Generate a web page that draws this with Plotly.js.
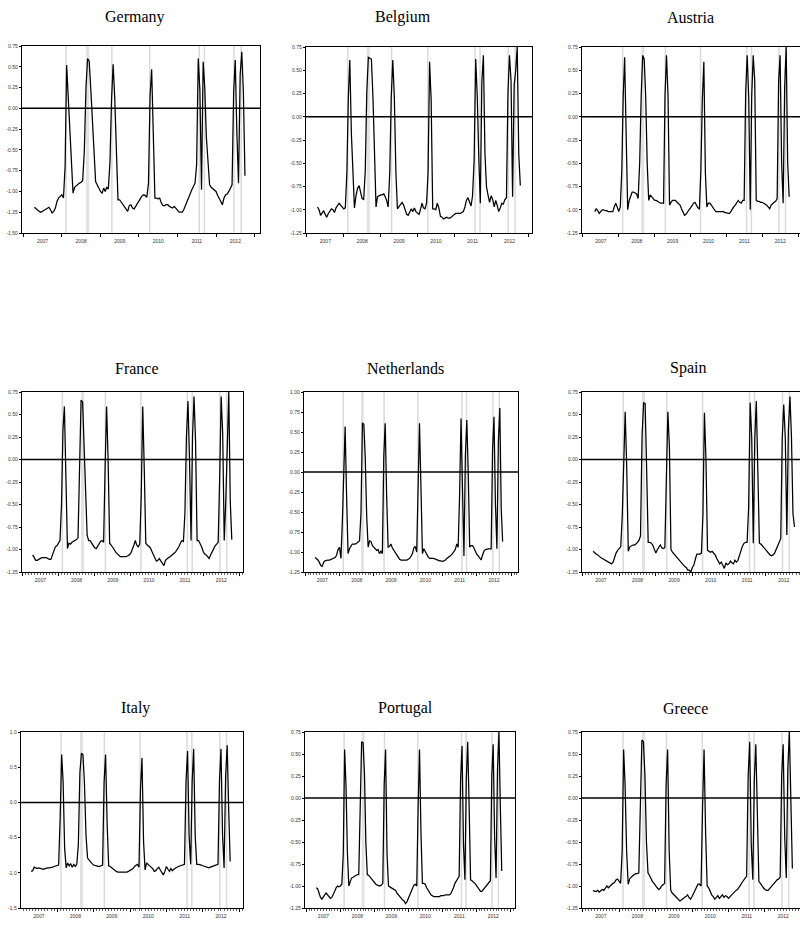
<!DOCTYPE html>
<html>
<head>
<meta charset="utf-8">
<script src="https://cdn.plot.ly/plotly-3.0.1.min.js"></script>
<style>
  html, body { margin: 0; padding: 0; background: #ffffff; }
  #chart { width: 800px; height: 926px; }
</style>
</head>
<body>
<div id="chart"></div>
<script>
// Semi-monthly observations from mid-April 2007 to October 2012.
// Time is counted in months from January 2007 (0 = 2007-01-01).
const firstMonth = 3.5;
const stepMonth = 0.5;

const germany = [
  -1.19,
  -1.21,-1.23,-1.24,-1.25,-1.24,-1.23,-1.22,-1.20,-1.19,-1.22,-1.26,-1.24,-1.20,-1.12,-1.08,-1.06,-1.04,-1.08,
  -0.70,0.52,0.16,-0.38,-0.78,-1.02,
  -0.95,-0.93,-0.92,-0.90,-0.89,-0.87,
  -0.52,0.24,0.60,0.57,0.24,-0.18,-0.66,-0.88,
  -0.92,-0.97,-1.00,-1.02,-0.96,-1.00,-0.95,-0.97,
  -0.65,0.10,0.53,0.12,-0.50,-1.10,
  -1.10,-1.13,-1.15,-1.18,-1.22,-1.24,-1.17,-1.16,-1.20,-1.21,-1.18,-1.14,-1.12,-1.08,-1.05,-1.04,-1.05,-1.07,
  -0.90,0.15,0.47,-0.30,-1.08,
  -1.08,-1.09,-1.08,-1.14,-1.17,-1.17,-1.16,-1.16,-1.18,-1.19,-1.20,-1.18,-1.20,-1.22,-1.25,-1.25,-1.25,-1.22,-1.17,-1.12,-1.06,-1.02,-0.98,-0.94,-0.90,
  -0.68,0.60,0.22,-0.98,0.56,0.25,-0.34,-0.70,-0.92,
  -0.95,-0.97,-0.99,-1.00,-1.05,-1.08,-1.12,-1.16,-1.08,-1.04,-1.03,-1.00,-0.96,-0.92,
  0.20,0.58,-0.30,-0.90,0.40,0.68,0.20,-0.81,null
];

const belgium = [
  -0.97,
  -1.00,-1.06,-1.03,-1.01,-1.05,-1.08,-1.04,-1.02,-0.99,-1.00,-1.03,-0.98,-0.96,-0.93,-0.95,-0.97,-0.99,-0.98,
  -0.60,0.21,0.61,-0.18,-0.61,-0.98,
  -0.85,-0.77,-0.74,-0.80,-0.88,-0.89,
  -0.59,0.27,0.64,0.63,0.62,0.21,-0.58,-0.97,
  -0.86,-0.85,-0.84,-0.84,-0.83,-0.86,-0.90,-0.97,
  -0.60,0.21,0.61,0.21,-0.60,-0.99,
  -0.97,-0.95,-0.92,-0.95,-1.00,-1.05,-1.06,-1.02,-0.99,-1.02,-0.98,-1.02,-1.04,-1.05,-0.99,-0.93,-0.98,-0.99,
  -0.93,-0.60,0.59,0.18,-0.99,
  -0.99,-1.00,-0.93,-0.98,-1.07,-1.08,-1.10,-1.09,-1.08,-1.09,-1.09,-1.08,-1.06,-1.05,-1.04,-1.04,-1.04,-1.04,-1.03,-1.02,-0.97,-0.90,-0.87,-0.93,-0.96,
  -0.85,-0.47,0.62,0.23,-0.45,-0.93,0.37,0.66,-0.40,
  -0.75,-0.84,-0.92,-0.85,-0.89,-0.97,-0.90,-0.95,-1.02,-0.98,-0.93,-0.94,-0.89,-0.87,
  0.25,0.66,0.39,-0.86,0.34,0.50,0.75,-0.40,-0.74
];

const austria = [
  null,
  -1.02,-0.99,-1.01,-1.04,-1.02,-1.00,-1.00,-1.01,-1.01,-1.02,-1.02,-1.02,-1.02,-0.97,-0.93,-0.97,-1.02,-0.97,
  -0.58,0.23,0.64,-0.20,-1.00,-0.90,
  -0.85,-0.81,-0.81,-0.82,-0.83,-0.88,
  -0.50,0.23,0.66,0.62,0.23,-0.50,-0.90,-0.84,
  -0.86,-0.88,-0.90,-0.90,-0.91,-0.92,-0.93,-0.93,
  -0.93,0.23,0.66,0.23,-0.95,-0.92,
  -0.90,-0.90,-0.90,-0.92,-0.94,-0.95,-0.99,-1.03,-1.06,-1.05,-1.02,-1.00,-0.98,-0.95,-0.93,-0.92,-0.95,-0.98,
  -0.99,-0.58,0.18,0.59,-0.60,
  -0.97,-0.93,-0.93,-0.95,-0.98,-1.00,-1.02,-1.02,-1.02,-1.02,-1.02,-1.02,-1.03,-1.03,-1.04,-1.04,-1.02,-0.99,-0.97,-0.95,-0.92,-0.90,-0.92,-0.93,-0.90,
  -0.90,0.27,0.66,0.20,-1.00,0.23,0.66,0.39,-0.90,
  -0.91,-0.91,-0.92,-0.92,-0.93,-0.94,-0.95,-0.97,-0.99,-0.95,-0.93,-0.92,-0.91,-0.88,
  0.39,0.66,-0.50,-0.93,0.32,0.75,-0.49,-0.86,null
];

const france = [
  -1.06,
  -1.10,-1.12,-1.12,-1.11,-1.10,-1.09,-1.09,-1.09,-1.09,-1.10,-1.11,-1.11,-1.06,-1.02,-0.97,-0.96,-0.93,-0.90,
  -0.50,0.33,0.59,-0.10,-0.99,-0.93,
  -0.94,-0.92,-0.91,-0.90,-0.89,-0.87,
  -0.20,0.66,0.64,0.20,-0.26,-0.84,-0.90,-0.90,
  -0.93,-0.96,-0.98,-0.99,-0.96,-0.93,-0.91,-0.90,
  -0.92,-0.10,0.59,0.00,-0.93,-0.95,
  -0.97,-1.00,-1.03,-1.05,-1.07,-1.08,-1.08,-1.08,-1.08,-1.08,-1.07,-1.06,-1.04,-1.00,-0.95,-0.90,-0.95,-0.97,
  -0.94,-0.40,0.59,-0.10,-0.93,
  -0.95,-0.96,-0.98,-1.02,-1.06,-1.08,-1.13,-1.12,-1.10,-1.13,-1.15,-1.18,-1.12,-1.10,-1.09,-1.08,-1.07,-1.06,-1.04,-1.02,-1.00,-0.97,-0.93,-0.90,-0.91,
  -0.60,0.26,0.65,0.00,-0.90,0.26,0.70,0.20,-0.90,
  -0.90,-0.93,-0.97,-1.02,-1.05,-1.06,-1.08,-1.10,-1.06,-1.02,-1.00,-0.96,-0.94,-0.92,
  -0.20,0.70,0.29,-0.90,-0.47,0.33,0.75,-0.47,-0.89
];

const netherlands = [
  -1.07,
  -1.08,-1.10,-1.13,-1.17,-1.18,-1.13,-1.11,-1.10,-1.10,-1.10,-1.09,-1.09,-1.08,-1.07,-1.04,-0.97,-0.94,-1.08,
  -0.60,0.15,0.57,-0.30,-1.02,-0.96,
  -0.92,-0.90,-0.90,-0.90,-0.89,-0.88,
  -0.86,-0.52,0.61,0.60,0.17,-0.56,-0.94,-0.86,
  -0.87,-0.92,-0.94,-0.96,-0.98,-0.97,-1.02,-0.99,
  -1.02,0.19,0.61,-0.30,-0.94,-0.93,
  -0.90,-0.95,-0.98,-1.00,-1.03,-1.06,-1.09,-1.10,-1.10,-1.10,-1.10,-1.10,-1.09,-1.08,-1.05,-1.02,-0.95,-0.93,
  -1.00,0.00,0.61,-0.20,-1.02,
  -0.96,-1.00,-1.04,-1.06,-1.08,-1.08,-1.08,-1.08,-1.09,-1.10,-1.10,-1.11,-1.11,-1.12,-1.11,-1.10,-1.08,-1.07,-1.05,-1.04,-1.02,-1.00,-0.97,-0.90,-0.94,
  -0.30,0.67,-0.20,-1.05,0.21,0.65,0.00,-0.94,-0.92,
  -0.92,-0.95,-1.00,-1.03,-1.05,-1.07,-1.10,-1.04,-0.99,-0.97,-0.96,-0.96,-0.96,-0.96,
  0.28,0.69,-0.40,-0.96,0.38,0.80,-0.46,-0.87,null
];

const spain = [
  -1.02,
  -1.04,-1.05,-1.06,-1.08,-1.09,-1.10,-1.11,-1.12,-1.13,-1.14,-1.15,-1.16,-1.14,-1.08,-1.04,-1.01,-0.99,-0.97,
  -0.62,0.14,0.53,-0.10,-1.02,-0.97,
  -0.96,-0.95,-0.95,-0.94,-0.92,-0.90,
  -0.85,0.26,0.63,0.62,-0.10,-0.92,-0.92,-0.93,
  -0.95,-1.00,-1.04,-1.00,-0.97,-0.95,-0.98,-0.99,
  -0.98,-0.20,0.53,0.14,-1.00,-1.03,
  -1.05,-1.07,-1.09,-1.11,-1.12,-1.15,-1.17,-1.19,-1.20,-1.23,-1.23,-1.25,-1.20,-1.17,-1.10,-1.05,-1.05,-1.05,
  -1.04,-0.62,0.52,0.00,-1.01,
  -1.02,-1.03,-1.02,-1.04,-1.06,-1.10,-1.14,-1.16,-1.14,-1.18,-1.21,-1.15,-1.17,-1.16,-1.13,-1.15,-1.16,-1.12,-1.14,-1.12,-1.06,-1.00,-0.96,-0.93,-0.92,
  -0.92,-0.53,0.63,0.24,-0.93,0.24,0.65,-0.10,-0.93,
  -0.94,-0.96,-0.98,-1.00,-1.03,-1.05,-1.06,-1.07,-1.06,-1.04,-1.00,-0.96,-0.92,-0.88,
  0.24,0.61,0.24,-0.84,0.33,0.70,0.25,-0.60,-0.75
];

const italy = [
  -0.98,
  -0.97,-0.92,-0.93,-0.94,-0.93,-0.94,-0.94,-0.95,-0.94,-0.93,-0.93,-0.93,-0.93,-0.92,-0.91,-0.90,-0.90,-0.89,
  -0.20,0.68,0.30,-0.65,-0.93,-0.86,
  -0.90,-0.87,-0.92,-0.88,-0.91,-0.88,
  -0.60,0.42,0.70,0.68,0.28,-0.46,-0.79,-0.82,
  -0.84,-0.87,-0.89,-0.90,-0.91,-0.91,-0.91,-0.90,
  -0.89,0.28,0.68,-0.30,-0.90,-0.91,
  -0.93,-0.95,-0.97,-0.98,-0.99,-0.99,-0.99,-1.00,-1.00,-1.00,-0.99,-0.98,-0.97,-0.96,-0.94,-0.91,-0.89,-0.88,
  -0.92,0.20,0.63,-0.55,-0.96,
  -0.86,-0.88,-0.90,-0.92,-0.94,-0.98,-0.97,-0.94,-0.92,-0.96,-1.00,-1.03,-0.98,-0.91,-0.95,-0.98,-0.94,-0.97,-0.95,-0.93,-0.92,-0.91,-0.90,-0.89,-0.88,
  -0.88,0.30,0.73,-0.48,-0.88,0.30,0.76,-0.48,-0.88,
  -0.88,-0.88,-0.89,-0.90,-0.91,-0.92,-0.93,-0.93,-0.92,-0.91,-0.90,-0.89,-0.88,-0.88,
  0.32,0.76,-0.46,-0.93,0.37,0.81,-0.10,-0.84,null
];

const portugal = [
  -1.02,
  -1.03,-1.08,-1.13,-1.15,-1.12,-1.10,-1.08,-1.10,-1.12,-1.14,-1.13,-1.10,-1.06,-1.02,-1.00,-1.01,-1.00,-0.98,
  -0.63,0.55,0.15,-0.63,-1.00,-0.95,
  -0.91,-0.90,-0.89,-0.88,-0.87,-0.87,
  -0.20,0.64,0.63,0.27,-0.51,-0.87,-0.88,-0.90,
  -0.92,-0.95,-0.97,-0.98,-0.99,-1.00,-1.00,-0.99,
  -0.97,0.15,0.55,-0.63,-1.00,-1.01,
  -1.02,-1.03,-1.04,-1.05,-1.08,-1.10,-1.12,-1.15,-1.16,-1.17,-1.20,-1.18,-1.14,-1.10,-1.06,-1.03,-0.99,-0.98,
  -1.00,-0.10,0.55,-0.40,-0.97,
  -0.97,-0.98,-1.02,-1.05,-1.08,-1.10,-1.11,-1.12,-1.12,-1.12,-1.12,-1.12,-1.11,-1.11,-1.11,-1.10,-1.10,-1.10,-1.10,-1.09,-1.06,-1.02,-0.97,-0.94,-0.91,
  -0.89,0.21,0.59,-0.53,-0.93,0.21,0.64,-0.10,-0.93,
  -0.94,-0.95,-0.97,-0.99,-1.01,-1.04,-1.06,-1.06,-1.04,-1.02,-1.00,-0.98,-0.96,-0.94,
  0.25,0.61,-0.45,-0.91,0.33,0.75,-0.10,-0.83,null
];

const greece = [
  -1.05,
  -1.06,-1.06,-1.05,-1.07,-1.06,-1.04,-1.05,-1.03,-1.00,-1.02,-1.00,-0.98,-0.97,-0.96,-0.93,-0.92,-0.95,-0.97,
  -0.60,0.55,0.15,-0.60,-0.98,-0.92,
  -0.90,-0.88,-0.87,-0.86,-0.86,-0.85,
  -0.20,0.66,0.64,0.25,-0.50,-0.85,-0.88,-0.92,
  -0.95,-0.97,-1.00,-1.02,-1.04,-1.03,-1.00,-0.98,
  -0.97,0.15,0.55,-0.60,-1.05,-1.08,
  -1.10,-1.12,-1.13,-1.15,-1.17,-1.16,-1.14,-1.13,-1.12,-1.10,-1.13,-1.15,-1.12,-1.08,-1.04,-1.00,-0.98,-0.98,
  -1.00,-0.10,0.55,-0.40,-1.00,
  -1.02,-1.06,-1.10,-1.12,-1.15,-1.13,-1.11,-1.14,-1.12,-1.10,-1.13,-1.11,-1.12,-1.14,-1.12,-1.10,-1.08,-1.06,-1.05,-1.04,-1.02,-0.99,-0.96,-0.93,-0.91,
  -0.89,0.25,0.64,-0.53,-0.93,0.21,0.61,-0.10,-0.95,
  -0.97,-1.00,-1.02,-1.04,-1.05,-1.05,-1.03,-1.00,-0.98,-0.97,-0.95,-0.93,-0.92,-0.90,
  0.25,0.61,-0.45,-0.91,0.33,0.75,-0.10,-0.80,null
];

const countries = ['Germany', 'Belgium', 'Austria', 'France', 'Netherlands', 'Spain', 'Italy', 'Portugal', 'Greece'];
const values = [germany, belgium, austria, france, netherlands, spain, italy, portugal, greece];

// y-axis tick values for each panel (top to bottom)
const ticksQuarter9 = [0.75, 0.5, 0.25, 0, -0.25, -0.5, -0.75, -1, -1.25];
const ticksGermany = [0.75, 0.5, 0.25, 0, -0.25, -0.5, -0.75, -1, -1.25, -1.5];
const ticksNetherlands = [1, 0.75, 0.5, 0.25, 0, -0.25, -0.5, -0.75, -1, -1.25];
const ticksItaly = [1, 0.5, 0, -0.5, -1, -1.5];
const yTicks = [ticksGermany, ticksQuarter9, ticksQuarter9, ticksQuarter9, ticksNetherlands,
                ticksQuarter9, ticksItaly, ticksQuarter9, ticksQuarter9];
const yDecimals = [2, 2, 2, 2, 2, 2, 1, 2, 2];

// marked dates (months from Jan 2007) and the shaded period
const eventMonths = [13.3, 27.6, 39.4, 54.8, 56.4, 65.6, 67.8];
const bandMonths = [19.5, 20.5];

// ---- layout geometry (pixels) ----
const W = 800, H = 926;
const boxes = [ // left, right, top, bottom
  [22, 260, 46, 233], [306, 532, 47, 233], [582, 800, 47, 233],
  [22, 243, 392, 572], [304, 518, 392, 572], [582, 800, 392, 572],
  [21, 243, 732, 908], [305, 515, 732, 908], [582, 800, 732, 908]
];
const xRanges = [ // visible span in months from Jan 2007
  [-0.4, 73.7], [-0.3, 73.3], [-0.3, 72.6],
  [-0.1, 73.2], [-0.4, 74.4], [-0.2, 71.3],
  [0.1, 73.2], [-0.5, 73.7], [-0.2, 71.5]
];
const titleCenters = [[135, 17], [403, 17], [690, 17], [137, 368], [406, 368], [688, 368], [135, 708], [405, 708], [685, 708]];

function monthToDate(t) {
  const m = Math.floor(t);
  const y = 2007 + Math.floor(m / 12);
  const mo = ((m % 12) + 12) % 12;
  const start = Date.UTC(y, mo, 1);
  const end = Date.UTC(y, mo + 1, 1);
  const d = new Date(start + (t - m) * (end - start));
  const iso = d.toISOString();
  return iso.slice(0, 10) + ' ' + iso.slice(11, 19);
}

const traces = [];
const shapes = [];
const annotations = [];
const layout = {
  width: W, height: H,
  margin: { l: 0, r: 0, t: 0, b: 0 },
  paper_bgcolor: '#ffffff',
  plot_bgcolor: '#ffffff',
  showlegend: false,
  shapes: shapes,
  annotations: annotations
};

const tickFont = { family: 'Liberation Sans, Arial, sans-serif', size: 5, color: '#333333' };

values.forEach((vals, i) => {
  const n = i + 1;
  const xa = n === 1 ? 'x' : 'x' + n;
  const ya = n === 1 ? 'y' : 'y' + n;
  const [l, r, t, b] = boxes[i];
  const dates = vals.map((_, k) => monthToDate(firstMonth + k * stepMonth));

  traces.push({
    type: 'scatter', mode: 'lines',
    x: dates, y: vals,
    xaxis: xa, yaxis: ya,
    line: { color: '#000000', width: 1.25 },
    connectgaps: false,
    hoverinfo: 'skip'
  });

  const yt = yTicks[i];
  const minorRow = i >= 3;
  layout['xaxis' + (n === 1 ? '' : n)] = {
    domain: [l / W, r / W],
    anchor: ya,
    type: 'date',
    range: [monthToDate(xRanges[i][0]), monthToDate(xRanges[i][1])],
    tick0: '2007-01-01', dtick: 'M12',
    tickformat: '%Y', ticklabelmode: 'period',
    ticks: 'outside', ticklen: 3, tickwidth: 1, tickcolor: '#000',
    minor: minorRow ? { dtick: 'M1', ticks: 'outside', ticklen: 2, tickwidth: 0.6, tickcolor: '#000' } : undefined,
    showgrid: false, zeroline: false,
    showline: true, mirror: true, linecolor: '#000', linewidth: 1.2,
    tickfont: tickFont,
    fixedrange: true
  };
  layout['yaxis' + (n === 1 ? '' : n)] = {
    domain: [1 - b / H, 1 - t / H],
    anchor: xa,
    range: [yt[yt.length - 1], yt[0]],
    tickvals: yt,
    ticktext: yt.map(v => v.toFixed(yDecimals[i])),
    ticks: 'outside', ticklen: 2, tickwidth: 1, tickcolor: '#000',
    showgrid: false, zeroline: false,
    showline: true, mirror: true, linecolor: '#000', linewidth: 1.2,
    tickfont: tickFont,
    fixedrange: true
  };

  // shaded period and marked dates
  shapes.push({
    type: 'rect', layer: 'below',
    xref: xa, yref: ya + ' domain',
    x0: monthToDate(bandMonths[0]), x1: monthToDate(bandMonths[1]), y0: 0, y1: 1,
    fillcolor: '#e2e2e2', line: { width: 0 }
  });
  eventMonths.forEach(m => {
    shapes.push({
      type: 'line', layer: 'below',
      xref: xa, yref: ya + ' domain',
      x0: monthToDate(m), x1: monthToDate(m), y0: 0, y1: 1,
      line: { color: '#dadada', width: 1.5 }
    });
  });
  // zero reference line
  shapes.push({
    type: 'line', layer: 'above',
    xref: xa + ' domain', yref: ya,
    x0: 0, x1: 1, y0: 0, y1: 0,
    line: { color: '#000000', width: 1.5 }
  });

  annotations.push({
    xref: 'paper', yref: 'paper',
    x: titleCenters[i][0] / W, y: 1 - titleCenters[i][1] / H,
    xanchor: 'center', yanchor: 'middle',
    text: countries[i], showarrow: false,
    font: { family: 'Liberation Serif, Times New Roman, serif', size: 16, color: '#000000' }
  });
});

Plotly.newPlot('chart', traces, layout, { staticPlot: true, displayModeBar: false });
</script>
</body>
</html>
